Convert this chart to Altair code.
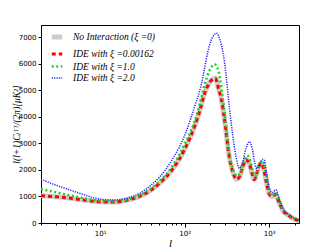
import altair as alt
import pandas as pd

SERIES = ["No Interaction (ξ =0)", "IDE with ξ =0.00162", "IDE with ξ =1.0", "IDE with ξ =2.0"]
COLORS = ["#cccccc", "#ff0000", "#22cc22", "#2222ff"]
DASHES = [[1, 0], [4, 3], [2, 2.5], [1.2, 1.2]]
WIDTHS = [5, 3, 2.5, 1.5]

# ξ = 0.00162 (and no interaction, indistinguishable)
L_RED = [2, 3, 4, 6, 10, 15, 20, 30, 40, 50, 70, 100, 133, 146, 175, 200, 230, 251, 275, 302,
         330, 370, 410, 450, 490, 532, 580, 630, 666, 710, 760, 800, 860, 930, 1000, 1080, 1180,
         1300, 1450, 1700, 2000, 2250]
CL_RED = [1030, 990, 950, 880, 800, 790, 850, 1020, 1240, 1490, 1980, 2780, 3700, 4080, 4950, 5330,
          5460, 5080, 4580, 3700, 2690, 1950, 1650, 1780, 2150, 2380, 2250, 1850, 1640, 1850, 2150,
          2250, 2050, 1500, 1100, 1000, 1080, 800, 480, 280, 150, 90]
L_GRAY = list(L_RED)
CL_GRAY = list(CL_RED)

L_GREEN = [2, 3, 4, 6, 10, 15, 20, 30, 40, 50, 70, 100, 143, 175, 200, 225, 250, 295, 338, 380,
           420, 460, 500, 545, 590, 640, 680, 720, 780, 830, 880, 950, 1010, 1090, 1190, 1300,
           1450, 1700, 2000, 2250]
CL_GREEN = [1280, 1160, 1070, 950, 830, 810, 870, 1060, 1300, 1560, 2100, 2980, 4200, 5300, 5800,
            5990, 5750, 4200, 2570, 1950, 1780, 1880, 2250, 2550, 2400, 1950, 1760, 1900, 2250,
            2330, 2120, 1580, 1150, 1040, 1130, 850, 510, 300, 160, 95]

L_BLUE = [2, 3, 4, 6, 10, 15, 20, 30, 40, 50, 70, 100, 131, 157, 172, 188, 206, 240, 262, 283, 309,
          323, 345, 370, 405, 444, 480, 530, 582, 630, 680, 720, 780, 830, 874, 930, 1000, 1080,
          1200, 1320, 1450, 1700, 2000, 2250]
CL_BLUE = [1650, 1430, 1290, 1100, 900, 870, 930, 1140, 1430, 1720, 2350, 3300, 4390, 5210, 5840,
           6460, 6900, 7160, 6900, 6460, 5580, 4950, 4100, 3320, 2500, 2060, 2250, 2800, 3070, 2800,
           2200, 2050, 2250, 2400, 2380, 1900, 1350, 1150, 1250, 900, 560, 320, 170, 100]

X_TICKS = [2, 3, 4, 5, 6, 7, 8, 9, 10, 20, 30, 40, 50, 60, 70, 80, 90, 100,
           200, 300, 400, 500, 600, 700, 800, 900, 1000, 2000]
Y_TICKS = [0, 1000, 2000, 3000, 4000, 5000, 6000, 7000]

frames = []
for name, ls, cls in [(SERIES[0], L_GRAY, CL_GRAY), (SERIES[1], L_RED, CL_RED),
                      (SERIES[2], L_GREEN, CL_GREEN), (SERIES[3], L_BLUE, CL_BLUE)]:
    frames.append(pd.DataFrame({"l": ls, "cl": cls, "series": name}))
df = pd.concat(frames, ignore_index=True)

legend = alt.Legend(
    orient="none", legendX=8, legendY=4, title=None, symbolType="stroke", symbolSize=110,
    labelFont="Liberation Serif", labelFontStyle="italic", labelFontSize=9.5, labelColor="black",
    labelOffset=8, rowPadding=0, padding=0,
)

base = alt.Chart(df).mark_line(interpolate="monotone", clip=True).encode(
    x=alt.X("l:Q",
            scale=alt.Scale(type="log", domain=[2, 2250], nice=False),
            axis=alt.Axis(values=X_TICKS, title="l", grid=False,
                          labelExpr="datum.value == 10 ? '10¹' : datum.value == 100 ? '10²' : datum.value == 1000 ? '10³' : ''",
                          tickSize={"condition": {"test": "indexof([10,100,1000], datum.value) >= 0", "value": 4}, "value": 2},
                          labelFontSize=7, labelPadding=2, labelFlush=False,
                          titleFont="Liberation Serif", titleFontStyle="italic", titleFontSize=11,
                          titleFontWeight="normal", titleY=20, titleBaseline="middle")),
    y=alt.Y("cl:Q",
            scale=alt.Scale(domain=[0, 7470], nice=False),
            axis=alt.Axis(values=Y_TICKS, format="d", title="l(l+1)Cₗᵀᵀ/(2π)[μK²]", grid=False,
                          labelFontSize=7, tickSize=3, labelPadding=2,
                          titleFont="Liberation Serif", titleFontSize=9.5, titleFontWeight="normal",
                          titleFontStyle="italic",
                          titleX=-25, titleY=99, titleAngle=270, titleBaseline="middle",
                          titleAlign="center")),
    color=alt.Color("series:N", scale=alt.Scale(domain=SERIES, range=COLORS), legend=legend),
    strokeDash=alt.StrokeDash("series:N", scale=alt.Scale(domain=SERIES, range=DASHES), legend=legend),
    strokeWidth=alt.StrokeWidth("series:N", scale=alt.Scale(type="ordinal", domain=SERIES, range=WIDTHS),
                                legend=legend),
)

layers = [base.transform_filter(alt.datum.series == s) for s in SERIES]

chart = alt.layer(*layers).properties(
    width=258, height=198, autosize="none",
    padding={"left": 33, "top": 17, "right": 25, "bottom": 24},
).configure_view(stroke="black", strokeWidth=1).configure_axis(
    domainColor="black", tickColor="black", labelColor="black", titleColor="black",
    labelFont="DejaVu Sans",
)

chart.save("out.html", embed_options={"renderer": "svg", "actions": False})
